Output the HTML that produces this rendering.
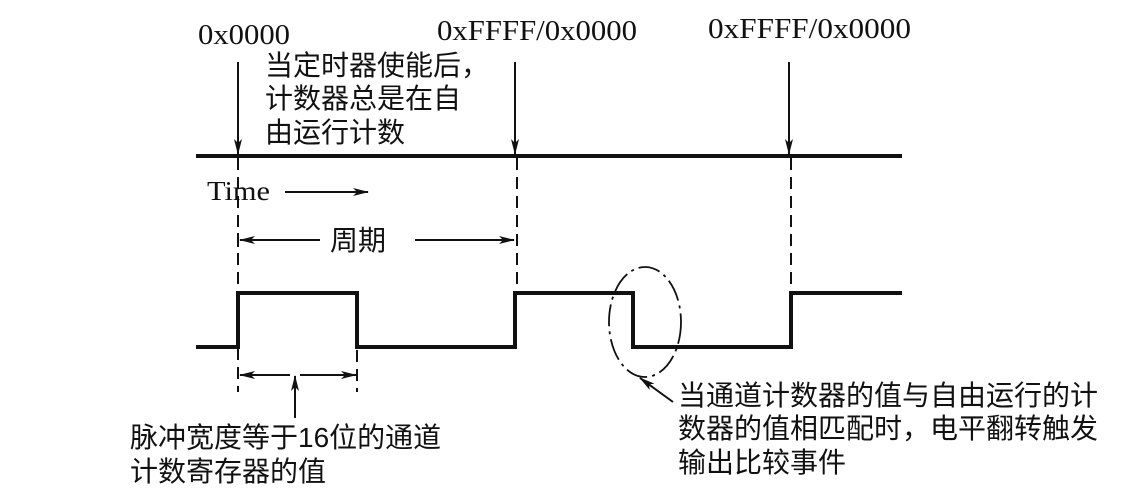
<!DOCTYPE html>
<html><head><meta charset="utf-8"><style>
body{margin:0;background:#fff;}
svg text{font-family:"Liberation Serif","Noto Serif CJK SC",serif;fill:#111;}
.c{font-family:"Liberation Sans","Noto Sans CJK SC",sans-serif;font-size:28px;}
</style></head><body>
<svg width="1146" height="489" viewBox="0 0 1146 489" xmlns="http://www.w3.org/2000/svg">
<defs><marker id="a" markerWidth="16" markerHeight="8" refX="15" refY="4" orient="auto" markerUnits="userSpaceOnUse"><path d="M0,0 L16,4 L0,8 L4,4Z" fill="#111"/></marker></defs>
<g stroke="#111" fill="none">
<line x1="196" y1="156" x2="902" y2="156" stroke-width="4"/>
<line x1="238" y1="62" x2="238" y2="154" stroke-width="2" marker-end="url(#a)"/>
<line x1="515" y1="62" x2="515" y2="154" stroke-width="2" marker-end="url(#a)"/>
<line x1="789" y1="62" x2="789" y2="154" stroke-width="2" marker-end="url(#a)"/>
<g stroke-width="2" stroke-dasharray="12,7">
<line x1="238" y1="158" x2="238" y2="392"/>
<line x1="517" y1="158" x2="517" y2="292"/>
<line x1="791" y1="158" x2="791" y2="292"/>
<line x1="357" y1="350" x2="357" y2="392"/>
</g>
<path d="M196,347 H238 V293 H357 V347 H515 V293 H633 V347 H791 V293 H902" stroke-width="4"/>
<line x1="285" y1="192" x2="368" y2="192" stroke-width="2" marker-end="url(#a)"/>
<line x1="320" y1="240" x2="240" y2="240" stroke-width="2" marker-end="url(#a)"/>
<line x1="415" y1="240" x2="514" y2="240" stroke-width="2" marker-end="url(#a)"/>
<line x1="238" y1="233" x2="238" y2="247" stroke-width="2"/>
<line x1="290" y1="375" x2="240" y2="375" stroke-width="2" marker-end="url(#a)"/>
<line x1="300" y1="375" x2="356" y2="375" stroke-width="2" marker-end="url(#a)"/>
<line x1="295" y1="418" x2="295" y2="376" stroke-width="2" marker-end="url(#a)"/>
<ellipse cx="645" cy="322" rx="36" ry="55" stroke-width="1.8" stroke-dasharray="22,5,3,5"/>
<line x1="673" y1="402" x2="640" y2="378" stroke-width="2" marker-end="url(#a)"/>
</g>
<text x="198" y="44" font-size="28" textLength="92" lengthAdjust="spacingAndGlyphs">0x0000</text>
<text x="437" y="40" font-size="28" textLength="200" lengthAdjust="spacingAndGlyphs">0xFFFF/0x0000</text>
<text x="708" y="38" font-size="28" textLength="203" lengthAdjust="spacingAndGlyphs">0xFFFF/0x0000</text>
<text x="207" y="200" font-size="27" textLength="63" lengthAdjust="spacingAndGlyphs">Time</text>
<text class="c" x="265" y="75">当定时器使能后，</text>
<text class="c" x="265" y="108">计数器总是在自</text>
<text class="c" x="265" y="142">由运行计数</text>
<text class="c" x="330" y="250">周期</text>
<text class="c" x="130" y="447">脉冲宽度等于16位的通道</text>
<text class="c" x="130" y="481">计数寄存器的值</text>
<text class="c" x="678" y="405">当通道计数器的值与自由运行的计</text>
<text class="c" x="678" y="438">数器的值相匹配时，电平翻转触发</text>
<text class="c" x="678" y="472">输出比较事件</text>
</svg>
</body></html>
